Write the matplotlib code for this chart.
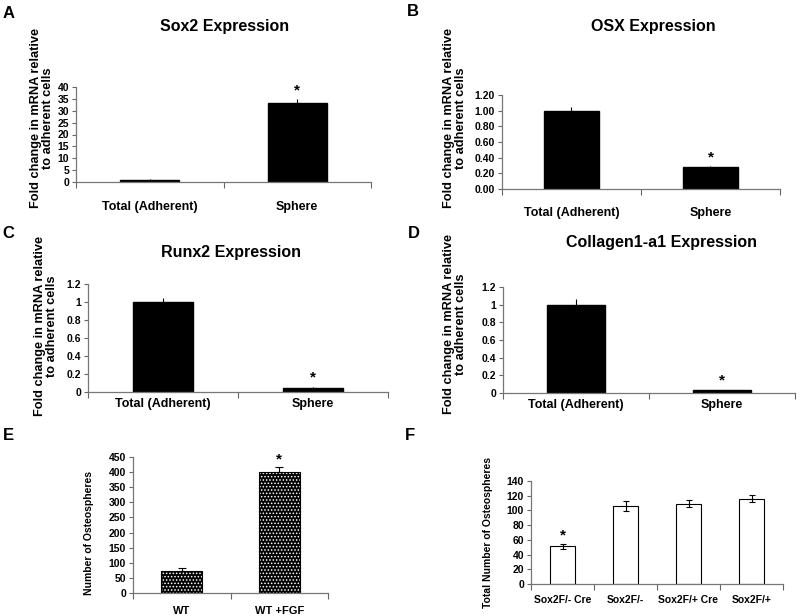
import matplotlib.pyplot as plt
import numpy as np

plt.rcParams['font.family'] = ['Liberation Sans', 'DejaVu Sans']
plt.rcParams['font.weight'] = 'bold'
plt.rcParams['hatch.linewidth'] = 0.7

W, H = 800, 616

# data
expr_cats = ['Total (Adherent)', 'Sphere']
sox2_vals = [1.0, 33.2]
sox2_err = [0.1, 1.8]
osx_vals = [1.00, 0.28]
osx_err = [0.05, 0.015]
runx2_vals = [1.0, 0.05]
runx2_err = [0.05, 0.01]
col1_vals = [1.0, 0.03]
col1_err = [0.06, 0.005]

wt_cats = ['WT', 'WT +FGF']
wt_vals = [73, 400]
wt_err = [10, 16]

sox2f_cats = ['Sox2F/- Cre', 'Sox2F/-', 'Sox2F/+ Cre', 'Sox2F/+']
sox2f_vals = [51, 106, 109, 116]
sox2f_err = [4, 7, 5, 5]


def px_axes(x0, x1, ytop, ybot):
    return fig.add_axes([x0 / W, 1 - ybot / H, (x1 - x0) / W, (ybot - ytop) / H])


def ftext(x, y, s, **kw):
    fig.text(x / W, 1 - y / H, s, **kw)


def style(ax, cats, ymax, step, fmt, tick_fs, cat_fs, pad):
    n = len(cats)
    ticks = np.arange(0, ymax + step / 2, step)
    ax.set_xlim(-0.5, n - 0.5)
    ax.set_ylim(0, ymax)
    ax.set_yticks(ticks)
    ax.set_yticklabels([fmt.format(v) for v in ticks], fontsize=tick_fs, fontweight='bold')
    ax.set_xticks(np.arange(-0.5, n, 1.0))
    ax.set_xticklabels([])
    ax.set_xticks(np.arange(n), minor=True)
    ax.set_xticklabels(cats, minor=True, fontsize=cat_fs, fontweight='bold')
    ax.tick_params(axis='x', which='minor', length=0, pad=pad)
    ax.tick_params(axis='x', which='major', length=4, color='#666666', direction='out')
    ax.tick_params(axis='y', length=3, color='#666666', direction='out', pad=2)
    for s in ['top', 'right']:
        ax.spines[s].set_visible(False)
    for s in ['left', 'bottom']:
        ax.spines[s].set_color('#777777')
        ax.spines[s].set_linewidth(0.9)


def star(ax, x, y):
    ax.text(x, y, '*', ha='center', va='bottom', fontsize=11, fontweight='bold')


fig = plt.figure(figsize=(W / 100, H / 100), dpi=100)

ylab2 = 'Fold change in mRNA relative\nto adherent cells'

panels = [
    # rect, vals, err, ymax, step, fmt, title, title pos, letter, letter pos, ylabel pos, pad
    ((76, 371, 87, 182), sox2_vals, sox2_err, 40, 5, '{:.0f}', 'Sox2 Expression', (225, 27), 'A', (9, 13), (42, 118), 14),
    ((502, 780, 95, 189), osx_vals, osx_err, 1.2, 0.2, '{:.2f}', 'OSX Expression', (653, 27), 'B', (413, 12), (455, 118), 13),
    ((88, 388, 284, 392), runx2_vals, runx2_err, 1.2, 0.2, '{:g}', 'Runx2 Expression', (231, 252), 'C', (8, 233), (46, 326), 4),
    ((503, 795, 287, 393), col1_vals, col1_err, 1.2, 0.2, '{:g}', 'Collagen1-a1 Expression', (662, 243), 'D', (414, 233), (455, 324), 4),
]

for rect, vals, err, ymax, step, fmt, title, tpos, letter, lpos, ypos, pad in panels:
    ax = px_axes(*rect)
    x = np.arange(len(vals))
    ax.bar(x, vals, width=0.4, color='black', edgecolor='black')
    ax.errorbar(x, vals, yerr=[np.zeros(len(err)), err], fmt='none', ecolor='black',
                elinewidth=0.8, capsize=0)
    style(ax, expr_cats, ymax, step, fmt, 7.5, 9, pad)
    star(ax, 1, vals[1] + err[1] + ymax * 0.02)
    ftext(*tpos, title, ha='center', va='center', fontsize=11.5, fontweight='bold')
    ftext(*lpos, letter, ha='center', va='center', fontsize=12, fontweight='bold')
    ftext(*ypos, ylab2, ha='center', va='center', rotation=90, fontsize=9.2,
          fontweight='bold', linespacing=1.05)

# panel E
ax = px_axes(133, 328, 457, 593)
x = np.arange(len(wt_vals))
ax.bar(x, wt_vals, width=0.42, color='black', edgecolor='white', hatch='.....', linewidth=0)
ax.bar(x, wt_vals, width=0.42, fill=False, edgecolor='black', linewidth=0.8)
ax.errorbar(x, wt_vals, yerr=[np.zeros(2), wt_err], fmt='none', ecolor='black',
            elinewidth=0.8, capsize=3, capthick=0.8)
style(ax, wt_cats, 450, 50, '{:.0f}', 7.5, 8, 9)
star(ax, 1, wt_vals[1] + wt_err[1] + 4)
ftext(89, 533, 'Number of Osteospheres', ha='center', va='center', rotation=90,
      fontsize=7.5, fontweight='bold')
ftext(8, 435, 'E', ha='center', va='center', fontsize=12, fontweight='bold')

# panel F
ax = px_axes(531, 783, 481, 584)
x = np.arange(len(sox2f_vals))
ax.bar(x, sox2f_vals, width=0.4, color='white', edgecolor='black', linewidth=0.8)
ax.errorbar(x, sox2f_vals, yerr=sox2f_err, fmt='none', ecolor='black',
            elinewidth=0.8, capsize=2.5, capthick=0.8)
style(ax, sox2f_cats, 140, 20, '{:.0f}', 7.5, 7.5, 8)
star(ax, 0, sox2f_vals[0] + sox2f_err[0] + 2)
ftext(488, 533, 'Total Number of Osteospheres', ha='center', va='center', rotation=90,
      fontsize=7.5, fontweight='bold')
ftext(410, 435, 'F', ha='center', va='center', fontsize=12, fontweight='bold')

fig.savefig('out.png', dpi=100)
